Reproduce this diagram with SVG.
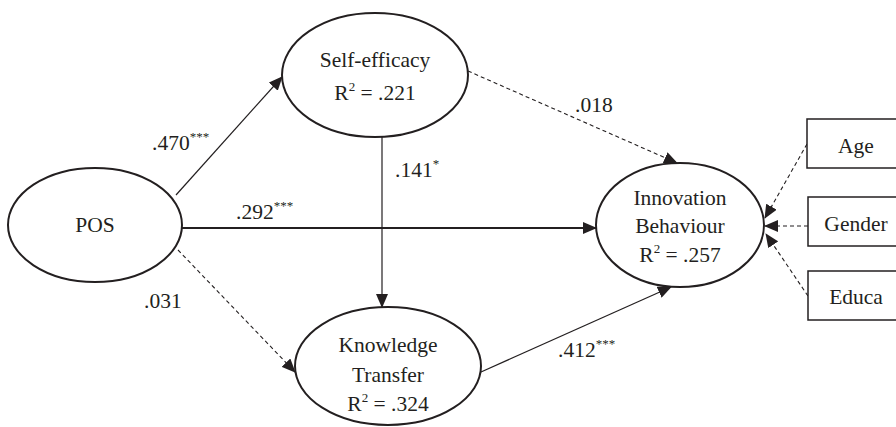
<svg xmlns="http://www.w3.org/2000/svg" width="896" height="427" viewBox="0 0 896 427">
<style>
text{font-family:"Liberation Serif","Times New Roman",serif;font-size:21.5px;fill:#231f20}
.c{text-anchor:middle}
.sup{font-size:13px}
.node{fill:#fff;stroke:#231f20;stroke-width:2}
.box{fill:#fff;stroke:#231f20;stroke-width:1.5}
.ln{fill:none;stroke:#231f20;stroke-width:1.2}
.th{fill:none;stroke:#231f20;stroke-width:2.2}
.ds{fill:none;stroke:#231f20;stroke-width:1.1;stroke-dasharray:4 3}
</style>
<defs>
<marker id="ah" markerUnits="userSpaceOnUse" markerWidth="14" markerHeight="12" refX="13" refY="6" orient="auto">
<path d="M0,0 L14,6 L0,12 Z" fill="#231f20"/>
</marker>
</defs>
<g id="connectors">
<line class="ln" x1="176" y1="195" x2="282" y2="77" marker-end="url(#ah)"/>
<line class="th" x1="182" y1="228" x2="596" y2="228" marker-end="url(#ah)"/>
<line class="ds" x1="178" y1="250" x2="295" y2="372" marker-end="url(#ah)"/>
<line class="ln" x1="382" y1="137" x2="382" y2="307" marker-end="url(#ah)"/>
<line class="ds" x1="468" y1="71" x2="677" y2="163" marker-end="url(#ah)"/>
<line class="ln" x1="481" y1="372" x2="671" y2="287" marker-end="url(#ah)"/>
<line class="ds" x1="807" y1="144" x2="765" y2="218" marker-end="url(#ah)"/>
<line class="ds" x1="808" y1="226" x2="765" y2="226" marker-end="url(#ah)"/>
<line class="ds" x1="808" y1="296" x2="766" y2="234" marker-end="url(#ah)"/>
</g>
<g id="labels">
<text x="152" y="150">.470<tspan class="sup" dy="-9">***</tspan></text>
<text x="395" y="177">.141<tspan class="sup" dy="-9">*</tspan></text>
<text x="236" y="219">.292<tspan class="sup" dy="-9">***</tspan></text>
<text x="144" y="308">.031</text>
<text x="575" y="112">.018</text>
<text x="558" y="357">.412<tspan class="sup" dy="-9">***</tspan></text>
</g>
<g id="pos">
<ellipse class="node" cx="95" cy="225" rx="87" ry="57"/>
<text class="c" x="95" y="232">POS</text>
</g>
<g id="self-efficacy">
<ellipse class="node" cx="375" cy="75" rx="93" ry="62"/>
<text class="c" x="375" y="67">Self-efficacy</text>
<text class="c" x="375" y="100">R<tspan class="sup" dy="-9">2</tspan><tspan dy="9"> = .221</tspan></text>
</g>
<g id="knowledge-transfer">
<ellipse class="node" cx="388" cy="366" rx="93" ry="59"/>
<text class="c" x="388" y="352">Knowledge</text>
<text class="c" x="388" y="382">Transfer</text>
<text class="c" x="388" y="411">R<tspan class="sup" dy="-9">2</tspan><tspan dy="9"> = .324</tspan></text>
</g>
<g id="innovation-behaviour">
<ellipse class="node" cx="680" cy="225" rx="84" ry="62"/>
<text class="c" x="680" y="205">Innovation</text>
<text class="c" x="680" y="233">Behaviour</text>
<text class="c" x="680" y="262">R<tspan class="sup" dy="-9">2</tspan><tspan dy="9"> = .257</tspan></text>
</g>
<g id="age">
<rect class="box" x="807" y="119" width="95" height="49"/>
<text class="c" x="856" y="153">Age</text>
</g>
<g id="gender">
<rect class="box" x="808" y="197" width="95" height="49"/>
<text class="c" x="856" y="231">Gender</text>
</g>
<g id="educa">
<rect class="box" x="808" y="271" width="95" height="49"/>
<text class="c" x="856" y="304">Educa</text>
</g>
</svg>
